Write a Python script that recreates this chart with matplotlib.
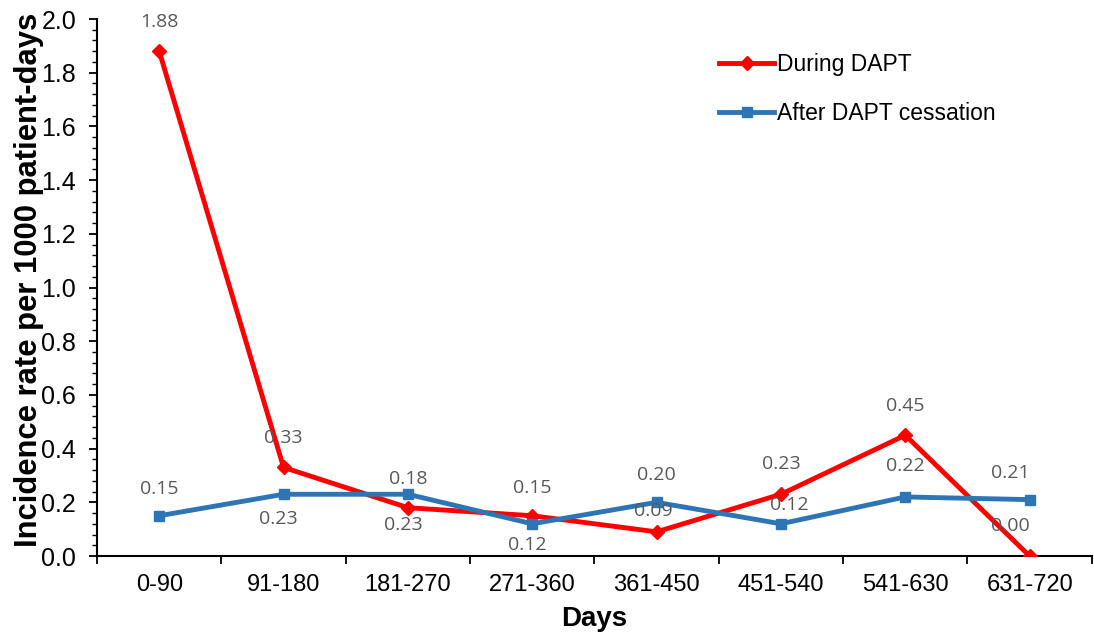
import matplotlib
matplotlib.use("Agg")
import matplotlib.pyplot as plt
from matplotlib.ticker import MultipleLocator, FormatStrFormatter

plt.rcParams['font.family'] = ['Liberation Sans', 'DejaVu Sans']

# Incidence rate per 1000 patient-days by 90-day interval
categories = ["0-90", "91-180", "181-270", "271-360", "361-450", "451-540", "541-630", "631-720"]
during_dapt = [1.88, 0.33, 0.18, 0.15, 0.09, 0.23, 0.45, 0.00]
after_dapt = [0.15, 0.23, 0.23, 0.12, 0.20, 0.12, 0.22, 0.21]

# label offsets in pixels (dx, dy) relative to each point
during_offsets = [(0, 29), (0, 29), (0, 29), (0, 28), (-3, 21), (0, 30), (0, 29), (-19, 30)]
after_offsets = [(0, 27), (-5, -25), (-5, -31), (-5, -21), (0, 27), (8, 19), (0, 31), (-19, 27)]

RED = "#FF0000"
BLUE = "#2E75B6"
LABEL_GRAY = "#595959"

fig = plt.figure(figsize=(10.94, 6.34), dpi=100)
ax = fig.add_axes([0.0887, 0.123, 0.9093, 0.847])

x = list(range(len(categories)))
ax.plot(x, during_dapt, color=RED, lw=3.5, marker="D", markersize=7,
        label="During DAPT", zorder=3)
ax.plot(x, after_dapt, color=BLUE, lw=3.5, marker="s", markersize=7.5,
        label="After DAPT cessation", zorder=3)

label_font = dict(fontsize=14, color=LABEL_GRAY, family=["Open Sans", "DejaVu Sans"])
for xi, v, (dx, dy) in zip(x, during_dapt, during_offsets):
    ax.annotate(f"{v:.2f}", (xi, v), xytext=(dx, dy), textcoords="offset pixels",
                ha="center", va="center", zorder=4, **label_font)
for xi, v, (dx, dy) in zip(x, after_dapt, after_offsets):
    ax.annotate(f"{v:.2f}", (xi, v), xytext=(dx, dy), textcoords="offset pixels",
                ha="center", va="center", zorder=4, **label_font)

ax.set_xlim(-0.5, len(categories) - 0.5)
ax.set_ylim(0, 2.0)
ax.yaxis.set_major_locator(MultipleLocator(0.2))
ax.yaxis.set_minor_locator(MultipleLocator(0.04))
ax.yaxis.set_major_formatter(FormatStrFormatter("%.1f"))

# category boundaries carry the tick marks, centres carry the labels
ax.set_xticks([i - 0.5 for i in range(len(categories) + 1)], minor=False)
ax.set_xticklabels([])
ax.set_xticks(x, minor=True)
ax.set_xticklabels(categories, minor=True)
ax.tick_params(axis="x", which="major", direction="out", length=6, width=1.3)
ax.tick_params(axis="x", which="minor", length=0, labelsize=17, pad=13)
ax.tick_params(axis="y", which="major", direction="out", length=6, width=1.3,
               labelsize=18, pad=9)
ax.tick_params(axis="y", which="minor", direction="out", length=3.5, width=1.0)

for side in ("top", "right"):
    ax.spines[side].set_visible(False)
for side in ("left", "bottom"):
    ax.spines[side].set_linewidth(1.5)

ax.set_ylabel("Incidence rate per 1000 patient-days", fontsize=22.3, fontweight="bold")
ax.yaxis.set_label_coords(-0.053, 0.514)
ax.set_xlabel("Days", fontsize=20, fontweight="bold")
ax.xaxis.set_label_coords(0.5, -0.094)

ax.legend(loc="upper left", bbox_to_anchor=(719 / 1094, 1 - 53 / 634),
          bbox_transform=fig.transFigure, frameon=False, fontsize=16.5,
          handlelength=2.4, handletextpad=0.15, labelspacing=1.13,
          borderpad=0, borderaxespad=0)

fig.savefig("out.png", dpi=100)
